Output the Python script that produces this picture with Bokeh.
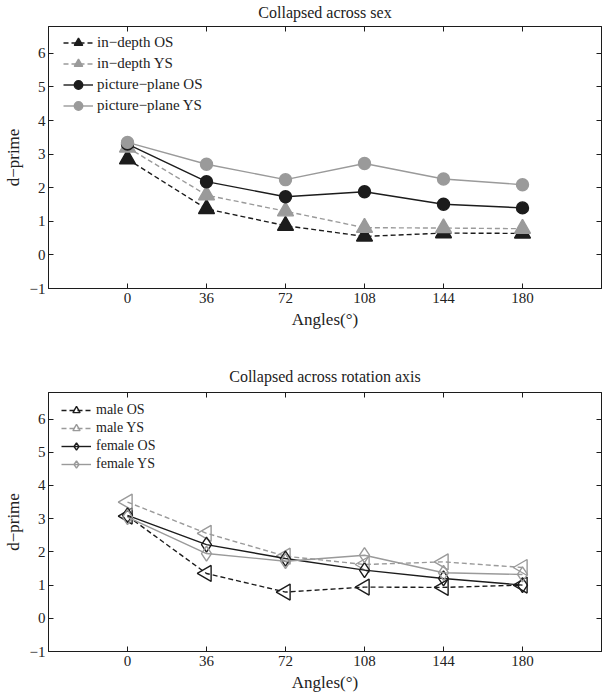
import numpy as np
from bokeh.plotting import figure
from bokeh.models import (ColumnDataSource, Legend, LegendItem, LinearAxis,
                          FixedTicker, Whisker, TeeHead, Range1d,
                          CustomLabelingPolicy)
from bokeh.layouts import column
from bokeh.embed import file_html
from bokeh.resources import INLINE

# ---------------- data ----------------
angles = [0, 36, 72, 108, 144, 180]
x_ticks = [0, 36, 72, 108, 144, 180]
y_ticks = [-1, 0, 1, 2, 3, 4, 5, 6]
y_tick_overrides = {-1: "\u22121"}

top_title = "Collapsed across sex"
bottom_title = "Collapsed across rotation axis"
x_label = "Angles(\u00b0)"
y_label = "d\u2212prime"

# top panel series
in_depth_os = [2.85, 1.37, 0.87, 0.55, 0.65, 0.64]
in_depth_os_err = [0.10, 0.10, 0.09, 0.08, 0.07, 0.07]
in_depth_ys = [3.20, 1.78, 1.30, 0.81, 0.80, 0.78]
in_depth_ys_err = [0.10, 0.10, 0.09, 0.08, 0.07, 0.07]
picture_plane_os = [3.30, 2.18, 1.73, 1.88, 1.51, 1.40]
picture_plane_os_err = [0.10, 0.15, 0.12, 0.09, 0.08, 0.08]
picture_plane_ys = [3.35, 2.70, 2.24, 2.72, 2.26, 2.09]
picture_plane_ys_err = [0.08, 0.08, 0.08, 0.08, 0.07, 0.07]

# bottom panel series
male_os = [3.08, 1.35, 0.79, 0.94, 0.93, 1.00]
male_ys = [3.50, 2.56, 1.87, 1.62, 1.70, 1.53]
female_os = [3.10, 2.22, 1.80, 1.45, 1.20, 1.00]
female_ys = [3.05, 1.95, 1.72, 1.90, 1.37, 1.32]

BLACK = "#1c1c1c"
GRAY = "#9a9a9a"
SERIF = "Liberation Serif"

HIDE_LABELS = """
for (const i of Array.from(indices)) { indices.unset(i) }
return indices
"""


def make_fig(title, height, border_top, border_bottom, title_standoff):
    p = figure(width=606, height=height,
               x_range=Range1d(-36, 216), y_range=Range1d(-1, 6.8),
               output_backend="svg", toolbar_location=None,
               min_border_left=48, min_border_right=5,
               min_border_top=border_top, min_border_bottom=border_bottom,
               x_axis_label=x_label, y_axis_label=y_label)
    p.title.text = title
    p.title.text_font = SERIF
    p.title.text_font_size = "16px"
    p.title.text_font_style = "normal"
    p.title.text_color = "#222222"
    p.title.align = "center"
    p.title.standoff = title_standoff
    p.grid.visible = False
    p.outline_line_color = BLACK
    p.outline_line_width = 1
    p.background_fill_color = "white"
    p.border_fill_color = "white"

    p.xaxis.ticker = FixedTicker(ticks=x_ticks)
    p.yaxis.ticker = FixedTicker(ticks=y_ticks)
    p.yaxis.major_label_overrides = y_tick_overrides
    for ax in (p.xaxis[0], p.yaxis[0]):
        ax.axis_line_color = BLACK
        ax.major_tick_line_color = BLACK
        ax.major_tick_in = 5
        ax.major_tick_out = 0
        ax.minor_tick_in = 0
        ax.minor_tick_out = 0
        ax.major_label_text_font = SERIF
        ax.major_label_text_font_size = "15px"
        ax.major_label_text_color = "#222222"
        ax.axis_label_text_font = SERIF
        ax.axis_label_text_font_size = "17px"
        ax.axis_label_text_font_style = "normal"
        ax.axis_label_text_color = "#222222"
    p.xaxis.major_label_standoff = 4
    p.xaxis.axis_label_standoff = 4
    p.yaxis.major_label_standoff = 3
    p.yaxis.axis_label_standoff = 4

    # mirrored box ticks (right and top), labels filtered out
    right = LinearAxis(ticker=FixedTicker(ticks=y_ticks), major_tick_in=5,
                       major_tick_out=0, minor_tick_in=0, minor_tick_out=0,
                       major_label_text_font_size="1px",
                       major_label_standoff=0, axis_label_standoff=0,
                       major_label_policy=CustomLabelingPolicy(code=HIDE_LABELS),
                       axis_line_color=BLACK, major_tick_line_color=BLACK)
    top = LinearAxis(ticker=FixedTicker(ticks=x_ticks), major_tick_in=5,
                     major_tick_out=0, minor_tick_in=0, minor_tick_out=0,
                     major_label_text_font_size="1px", major_label_standoff=0,
                     axis_label_standoff=0,
                     major_label_policy=CustomLabelingPolicy(code=HIDE_LABELS),
                     axis_line_color=BLACK, major_tick_line_color=BLACK)
    p.add_layout(right, "right")
    p.add_layout(top, "above")
    return p


def add_series(p, ys, color, dash, marker, size, fill, angle=0.0, err=None):
    data = dict(x=angles, y=ys)
    if err is not None:
        data["upper"] = [v + e for v, e in zip(ys, err)]
        data["lower"] = [v - e for v, e in zip(ys, err)]
    src = ColumnDataSource(data)
    if err is not None:
        w = Whisker(source=src, base="x", upper="upper", lower="lower",
                    line_color=color, line_width=1.2, level="underlay",
                    upper_head=TeeHead(size=7, line_color=color, line_width=1.2),
                    lower_head=TeeHead(size=7, line_color=color, line_width=1.2))
        p.add_layout(w)
    ln = p.line("x", "y", source=src, line_color=color, line_width=1.4,
                line_dash=dash)
    sc = p.scatter("x", "y", source=src, marker=marker, size=size,
                   angle=angle, line_color=color, line_width=1.4,
                   fill_color=fill)
    return [ln, sc]


def add_legend(p, items, glyph, x, y_from_bottom, font_size, standoff):
    leg = Legend(items=[LegendItem(label=lab, renderers=r) for lab, r in items],
                 location=(x, y_from_bottom), orientation="vertical",
                 glyph_width=30, glyph_height=glyph, label_height=glyph,
                 spacing=0, padding=0, margin=0, label_standoff=standoff,
                 border_line_color=None, background_fill_alpha=0,
                 label_text_font=SERIF, label_text_font_size=font_size,
                 label_text_color="#222222")
    p.add_layout(leg, "center")


# ---------------- top figure ----------------
p1 = make_fig(top_title, 352, 26, 64, 3)
r_id_os = add_series(p1, in_depth_os, BLACK, "5 3", "triangle", 16, BLACK, err=in_depth_os_err)
r_id_ys = add_series(p1, in_depth_ys, GRAY, "5 3", "triangle", 16, GRAY, err=in_depth_ys_err)
r_pp_os = add_series(p1, picture_plane_os, BLACK, "solid", "circle", 12, BLACK, err=picture_plane_os_err)
r_pp_ys = add_series(p1, picture_plane_ys, GRAY, "solid", "circle", 12, GRAY, err=picture_plane_ys_err)
add_legend(p1, [("in\u2212depth OS", r_id_os), ("in\u2212depth YS", r_id_ys),
                ("picture\u2212plane OS", r_pp_os), ("picture\u2212plane YS", r_pp_ys)],
           21, 15, 172, "15px", 4)

# ---------------- bottom figure ----------------
p2 = make_fig(bottom_title, 342, 40, 40, 7)
r_m_os = add_series(p2, male_os, BLACK, "5 3", "triangle", 16, None, angle=np.pi / 2)
r_m_ys = add_series(p2, male_ys, GRAY, "5 3", "triangle", 16, None, angle=np.pi / 2)
r_f_os = add_series(p2, female_os, BLACK, "solid", "diamond", 15, None)
r_f_ys = add_series(p2, female_ys, GRAY, "solid", "diamond", 15, None)
add_legend(p2, [("male OS", r_m_os), ("male YS", r_m_ys),
                ("female OS", r_f_os), ("female YS", r_f_ys)],
           18, 13, 178, "14px", 5)

layout = column(p1, p2, spacing=0)
open("out.html", "w").write(file_html(layout, INLINE))
